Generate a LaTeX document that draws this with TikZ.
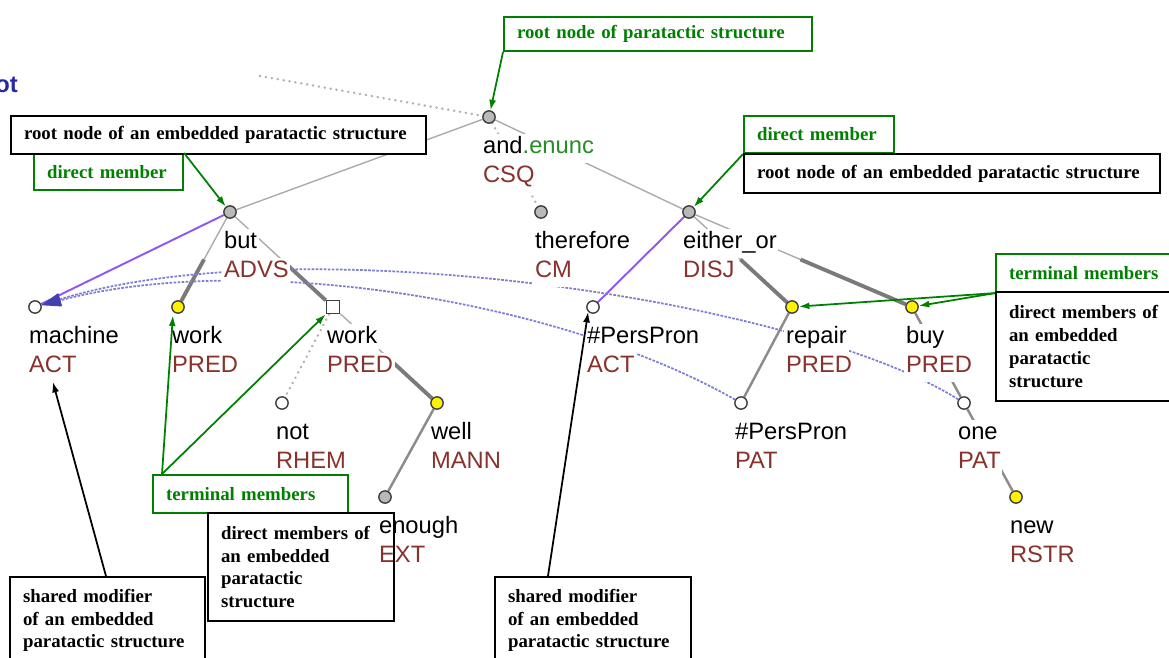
\documentclass[tikz,border=0pt]{standalone}
\usepackage{fontspec}
\setmainfont{Liberation Serif}
\setsansfont{Liberation Sans}
\usetikzlibrary{arrows.meta,calc}

\definecolor{grn}{RGB}{0,128,0}
\definecolor{brn}{RGB}{135,50,45}
\definecolor{pur}{RGB}{145,85,245}
\definecolor{crf}{RGB}{125,125,215}
\definecolor{crfhead}{RGB}{65,65,175}
\definecolor{enc}{RGB}{40,140,40}
\definecolor{rootblue}{RGB}{40,40,160}

\pgfdeclarelayer{edges}
\pgfsetlayers{edges,main}

\tikzset{
  gdot/.style={circle, draw=black!75, line width=0.8pt, fill=gray!55, inner sep=0pt, minimum size=7pt},
  wdot/.style={gdot, fill=white},
  ydot/.style={gdot, fill=yellow},
  sqdot/.style={rectangle, draw=black!75, line width=0.8pt, fill=white, inner sep=0pt, minimum size=7.5pt},
  word/.style={anchor=west, fill=white, inner xsep=1pt, inner ysep=1pt, text height=10.5pt, text depth=4pt, font=\sffamily\fontsize{13.5}{16}\selectfont},
  func/.style={word, text=brn},
  edgethin/.style={draw=black!33, line width=0.8pt},
  edgethick/.style={draw=black!52, line width=2.2pt},
  edgemid/.style={draw=black!45, line width=1.4pt},
  dotlink/.style={draw=black!30, line width=1.5pt, dash pattern=on 0.1pt off 3.3pt, line cap=round},
  purline/.style={draw=pur, line width=1.1pt},
  coref/.style={draw=crf, line width=1pt, dash pattern=on 1.5pt off 0.8pt, -{Triangle[length=11pt,width=7pt,color=crfhead]}},
  callout/.style={draw, line width=1.2pt, fill=white, anchor=north west, align=left, inner xsep=0.26cm, inner ysep=0pt, font=\rmfamily\bfseries\fontsize{10.7}{13}\selectfont},
  gcallout/.style={callout, draw=grn, text=grn},
  bcallout/.style={callout, draw=black, text=black},
  garrow/.style={-{Latex[length=6pt,width=4pt]}, draw=grn, fill=grn, line width=1pt},
  barrow/.style={-{Latex[length=6pt,width=4pt]}, draw=black, fill=black, line width=1pt}
}

\begin{document}
\begin{tikzpicture}[x=0.02cm, y=-0.02cm]
  \useasboundingbox (0,0) rectangle (1169,657);

  \node[font=\sffamily\bfseries\fontsize{13.5}{16}\selectfont, text=rootblue, anchor=east, inner sep=0pt] (rootlbl) at (18,85) {ot};

  % tree nodes
  \node[gdot] (root) at (489,117) {};
  \node[gdot] (but) at (230,212) {};
  \node[gdot] (therf) at (541,212) {};
  \node[gdot] (either) at (689,212) {};
  \node[wdot] (machine) at (35,307) {};
  \node[ydot] (workA) at (178,307) {};
  \node[sqdot] (workB) at (333,307) {};
  \node[wdot] (not) at (282,403) {};
  \node[ydot] (well) at (437,403) {};
  \node[gdot] (enough) at (385,497) {};
  \node[wdot] (ppact) at (593,307) {};
  \node[ydot] (repair) at (792,307) {};
  \node[ydot] (buy) at (912,307) {};
  \node[wdot] (pppat) at (741,403) {};
  \node[wdot] (one) at (964,403) {};
  \node[ydot] (new) at (1016,497) {};

  \node[word] (root-w) at (481,148) {and\textcolor{enc}{.enunc}};
  \node[func] (root-f) at (481,177) {CSQ};
  \node[word] (but-w) at (222,243) {but};
  \node[func] (but-f) at (222,272) {ADVS};
  \node[word] (therf-w) at (533,243) {therefore};
  \node[func] (therf-f) at (533,272) {CM};
  \node[word] (either-w) at (681,243) {either\_or};
  \node[func] (either-f) at (681,272) {DISJ};
  \node[word] (machine-w) at (27,338) {machine};
  \node[func] (machine-f) at (27,367) {ACT};
  \node[word] (workA-w) at (170,338) {work};
  \node[func] (workA-f) at (170,367) {PRED};
  \node[word] (workB-w) at (325,338) {work};
  \node[func] (workB-f) at (325,367) {PRED};
  \node[word] (not-w) at (274,434) {not};
  \node[func] (not-f) at (274,463) {RHEM};
  \node[word] (well-w) at (429,434) {well};
  \node[func] (well-f) at (429,463) {MANN};
  \node[word] (enough-w) at (377,528) {enough};
  \node[func] (enough-f) at (377,557) {EXT};
  \node[word] (ppact-w) at (585,338) {\#PersPron};
  \node[func] (ppact-f) at (585,367) {ACT};
  \node[word] (repair-w) at (784,338) {repair};
  \node[func] (repair-f) at (784,367) {PRED};
  \node[word] (buy-w) at (904,338) {buy};
  \node[func] (buy-f) at (904,367) {PRED};
  \node[word] (pppat-w) at (733,434) {\#PersPron};
  \node[func] (pppat-f) at (733,463) {PAT};
  \node[word] (one-w) at (956,434) {one};
  \node[func] (one-f) at (956,463) {PAT};
  \node[word] (new-w) at (1008,528) {new};
  \node[func] (new-f) at (1008,557) {RSTR};

  % edges under the labels
  \begin{pgfonlayer}{edges}
    \coordinate (up) at (260,76);
    \draw[dotlink] (up) -- (root);
    \draw[edgethin] (root) -- (but);
    \draw[edgethin] (root) -- (either);
    \draw[dotlink] (root) -- (therf);
    \draw[purline] (but) -- (machine);
    \draw[edgethin] (but) -- (workA);
    \draw[edgethick] ($(but)!0.5!(workA)$) -- (workA);
    \draw[edgethin] (but) -- (workB);
    \draw[edgethick] ($(but)!0.5!(workB)$) -- (workB);
    \draw[dotlink] (workB) -- (not);
    \draw[edgethin] (workB) -- (well);
    \draw[edgethick] ($(workB)!0.5!(well)$) -- (well);
    \draw[edgemid] (well) -- (enough);
    \draw[purline] (either) -- (ppact);
    \draw[edgethin] (either) -- (repair);
    \draw[edgethick] ($(either)!0.5!(repair)$) -- (repair);
    \draw[edgethin] (either) -- (buy);
    \draw[edgethick] ($(either)!0.5!(buy)$) -- (buy);
    \draw[edgemid] (repair) -- (pppat);
    \draw[edgemid] (buy) -- (one);
    \draw[edgemid] (one) -- (new);
    \draw[coref] (pppat) .. controls (560,300) and (250,250) .. (machine);
    \draw[coref] (one) .. controls (800,300) and (300,225) .. (machine);
  \end{pgfonlayer}

  % callouts
  \node[gcallout, text width=5.64cm, minimum height=0.68cm] (cbroot) at (503,16) {\mbox{root node of paratactic structure}};
  \node[gcallout, text width=2.46cm, minimum height=0.72cm] (dmA) at (33,153) {\mbox{direct member}};
  \node[bcallout, text width=7.78cm, minimum height=0.76cm] (embA) at (10,115) {\mbox{root node of an embedded paratactic structure}};
  \node[gcallout, text width=2.48cm, minimum height=0.74cm] (dmB) at (743,115) {\mbox{direct member}};
  \node[bcallout, text width=7.80cm, minimum height=0.78cm] (embB) at (743,153) {\mbox{root node of an embedded paratactic structure}};
  \node[gcallout, text width=3.0cm, minimum height=0.76cm] (termB) at (995,253) {\mbox{terminal members}};
  \node[bcallout, text width=3.0cm, minimum height=2.18cm] (dmemB) at (995,291) {\mbox{direct members of}\\\mbox{an embedded}\\paratactic\\structure};
  \node[gcallout, text width=3.38cm, minimum height=0.76cm] (termA) at (152,474) {\mbox{terminal members}};
  \node[bcallout, fill=none, text width=3.2cm, minimum height=2.16cm] (dmemA) at (207,512) {\mbox{direct members of}\\\mbox{an embedded}\\paratactic\\structure};
  \node[bcallout, inner ysep=0.24cm, text width=3.38cm] (shareA) at (9,576) {\mbox{shared modifier}\\\mbox{of an embedded}\\\mbox{paratactic structure}};
  \node[bcallout, inner ysep=0.24cm, text width=3.4cm] (shareB) at (494,576) {\mbox{shared modifier}\\\mbox{of an embedded}\\\mbox{paratactic structure}};

  \draw[garrow] (cbroot.south west) -- (root);
  \draw[garrow] (dmA.north east) -- (but);
  \draw[garrow] (dmB.south west) -- (either);
  \draw[garrow] (termB.south west) -- (repair);
  \draw[garrow] (termB.south west) -- (buy);
  \draw[garrow, shorten >=2pt] ([xshift=0.2cm]termA.north west) -- (workA.south west);
  \draw[garrow] ([xshift=0.2cm]termA.north west) -- (workB.south west);
  \draw[barrow] ([xshift=1.94cm]shareA.north west) -- (machine-f.south);
  \draw[barrow] ([xshift=1.08cm]shareB.north west) -- (ppact.south west);
\end{tikzpicture}
\end{document}
